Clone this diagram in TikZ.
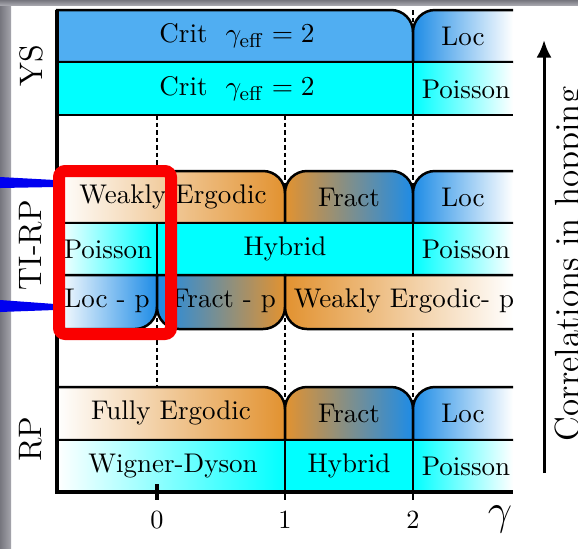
\documentclass[tikz,border=0pt]{standalone}
\usetikzlibrary{arrows.meta}
\definecolor{critblue}{RGB}{80,174,242}
\definecolor{gblue}{RGB}{30,140,230}
\definecolor{org}{RGB}{226,146,48}
\definecolor{cyn}{RGB}{0,255,255}
\definecolor{redbox}{RGB}{250,0,0}
\definecolor{bluelink}{RGB}{0,0,240}
\definecolor{frameA}{RGB}{118,118,126}
\definecolor{frameB}{RGB}{165,165,172}
\tikzset{
  ctl/.style 2 args={insert path={-- (#1,{#2+22}) .. controls (#1,{#2+9.85}) and ({#1+9.85},#2) .. ({#1+22},#2)}},
  ctr/.style 2 args={insert path={-- ({#1-22},#2) .. controls ({#1-9.85},#2) and (#1,{#2+9.85}) .. (#1,{#2+22})}},
  cbr/.style 2 args={insert path={-- (#1,{#2-22}) .. controls (#1,{#2-9.85}) and ({#1-9.85},#2) .. ({#1-22},#2)}},
  cbl/.style 2 args={insert path={-- ({#1+22},#2) .. controls ({#1+9.85},#2) and (#1,{#2-9.85}) .. (#1,{#2-22})}},
  cellline/.style={draw=black, line width=1pt},
  lbl/.style={font=\fontsize{10.8}{12}\selectfont, inner sep=0pt},
  rowlbl/.style={font=\fontsize{13}{15}\selectfont, rotate=90, inner sep=0pt},
  ticklbl/.style={font=\fontsize{10.5}{12}\selectfont, inner sep=0pt},
  guide/.style={line width=0.6pt, dash pattern=on 1.8pt off 1.2pt},
}
\begin{document}
\begin{tikzpicture}[x={0.4pt}, y={-0.4pt}]
\useasboundingbox (0,0) rectangle (578,548);
\clip (0,0) rectangle (578,548);
% background
\fill[white] (0,0) rectangle (578,548);
\shade[left color=frameA, right color=frameB] (0,0) rectangle (11,548);
\shade[top color=frameA, bottom color=frameB] (0,0) rectangle (578,5);
% dashed guides
\draw[guide] (157,10) -- (157,492);
\draw[guide] (285,10) -- (285,492);
\draw[guide] (413,10) -- (413,492);
% ---------- YS ----------
\filldraw[fill=critblue, cellline] (57,62) -- (57,10) [ctr={413}{10}] -- (413,62) -- cycle;
\shadedraw[left color=gblue, right color=white, cellline] (513,62) -- (413,62) [ctl={413}{10}] -- (513,10);
\filldraw[fill=cyn, cellline] (57,62) rectangle (413,115);
\shadedraw[left color=cyn, right color=white, cellline] (513,62) -- (413,62) -- (413,115) -- (513,115);
% ---------- TI-RP ----------
\shadedraw[left color=white, right color=org, cellline] (57,223) -- (57,171) [ctr={285}{171}] -- (285,223) -- cycle;
\shadedraw[left color=org, right color=gblue, cellline] (285,223) [ctl={285}{171}] [ctr={413}{171}] -- (413,223) -- cycle;
\shadedraw[left color=gblue, right color=white, cellline] (513,223) -- (413,223) [ctl={413}{171}] -- (513,171);
\shadedraw[left color=white, right color=cyn, cellline] (57,223) rectangle (157,275);
\filldraw[fill=cyn, cellline] (157,223) rectangle (413,275);
\shadedraw[left color=cyn, right color=white, cellline] (513,223) -- (413,223) -- (413,275) -- (513,275);
\shadedraw[left color=white, right color=gblue, cellline] (57,275) -- (157,275) [cbr={157}{329}] -- (57,329) -- cycle;
\shadedraw[left color=gblue, right color=org, cellline] (157,275) -- (285,275) [cbr={285}{329}] [cbl={157}{329}] -- cycle;
\shadedraw[left color=org, right color=white, cellline] (513,329) [cbl={285}{329}] -- (285,275) -- (513,275);
% ---------- RP ----------
\shadedraw[left color=white, right color=org, cellline] (57,440) -- (57,387) [ctr={285}{387}] -- (285,440) -- cycle;
\shadedraw[left color=org, right color=gblue, cellline] (285,440) [ctl={285}{387}] [ctr={413}{387}] -- (413,440) -- cycle;
\shadedraw[left color=gblue, right color=white, cellline] (513,440) -- (413,440) [ctl={413}{387}] -- (513,387);
\shadedraw[left color=white, right color=cyn, cellline] (57,440) rectangle (285,492);
\filldraw[fill=cyn, cellline] (285,440) rectangle (413,492);
\shadedraw[left color=cyn, right color=white, cellline] (513,440) -- (413,440) -- (413,492) -- (513,492);
% axes and ticks
\draw[line width=1.4pt] (57,10) -- (57,492) -- (513,492);
\draw[line width=1.6pt] (157,484) -- (157,500);
\draw[line width=1pt] (285,484) -- (285,500);
\draw[line width=1pt] (413,484) -- (413,500);
% cell texts
\node[lbl] (ysA1) at (237,36) {Crit\ \ $\gamma_{\mathrm{eff}}=2$};
\node[lbl] (ysA2) at (463,36) {Loc};
\node[lbl] (ysB1) at (237,89) {Crit\ \ $\gamma_{\mathrm{eff}}=2$};
\node[lbl] (ysB2) at (466,89) {Poisson};
\node[lbl] (tiA1) at (173,197) {Weakly Ergodic};
\node[lbl] (tiA2) at (349,197) {Fract};
\node[lbl] (tiA3) at (463,197) {Loc};
\node[lbl] (tiB1) at (108,249) {Poisson};
\node[lbl] (tiB2) at (285,249) {Hybrid};
\node[lbl] (tiB3) at (466,249) {Poisson};
\node[lbl] (tiC1) at (107,301) {Loc - p};
\node[lbl] (tiC2) at (224,301) {Fract - p};
\node[lbl] (tiC3) at (404,301) {Weakly Ergodic- p};
\node[lbl] (rpA1) at (171,413) {Fully Ergodic};
\node[lbl] (rpA2) at (349,413) {Fract};
\node[lbl] (rpA3) at (463,413) {Loc};
\node[lbl] (rpB1) at (173,466) {Wigner-Dyson};
\node[lbl] (rpB2) at (349,466) {Hybrid};
\node[lbl] (rpB3) at (466,466) {Poisson};
% row labels
\node[rowlbl] (lys) at (31,66) {YS};
\node[rowlbl] (lti) at (31,245) {TI-RP};
\node[rowlbl] (lrp) at (31,439) {RP};
% tick labels
\node[ticklbl] (t0) at (157,520) {0};
\node[ticklbl] (t1) at (285,520) {1};
\node[ticklbl] (t2) at (413,520) {2};
\node[font=\fontsize{19}{20}\selectfont, inner sep=0pt] (gam) at (500,519) {$\gamma$};
% correlations arrow
\coordinate (arrS) at (544,473);
\coordinate (arrE) at (544,40);
\draw[line width=1.2pt, -{Latex[length=7pt,width=6pt]}] (arrS) -- (arrE);
\node[rotate=90, anchor=base, font=\fontsize{14}{16}\selectfont, inner sep=0pt] (corr) at (579,264) {Correlations in hopping};
% blue pointer wedges
\coordinate (wTa) at (0,177); \coordinate (wTb) at (55,180);
\coordinate (wTc) at (55,187); \coordinate (wTd) at (0,188);
\fill[bluelink] (wTa) -- (wTb) -- (wTc) -- (wTd) -- cycle;
\coordinate (wBa) at (0,300); \coordinate (wBb) at (55,304);
\coordinate (wBc) at (55,310); \coordinate (wBd) at (0,312);
\fill[bluelink] (wBa) -- (wBb) -- (wBc) -- (wBd) -- cycle;
% red highlight box
\draw[redbox, line width=4.8pt, rounded corners=2.5pt] (59,171) rectangle (171,334);
\end{tikzpicture}
\end{document}
